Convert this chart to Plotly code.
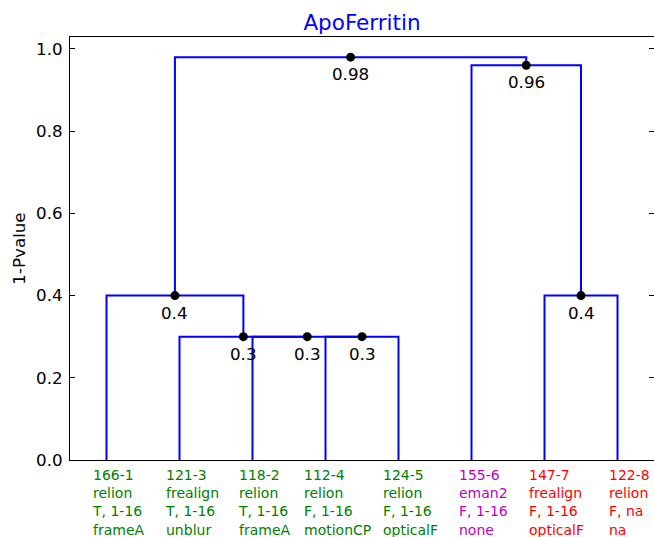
import plotly.graph_objects as go

# ---- data ----
leaf_labels = [
    "166-1<br>relion<br>T, 1-16<br>frameA",
    "121-3<br>frealign<br>T, 1-16<br>unblur",
    "118-2<br>relion<br>T, 1-16<br>frameA",
    "112-4<br>relion<br>F, 1-16<br>motionCP",
    "124-5<br>relion<br>F, 1-16<br>opticalF",
    "155-6<br>eman2<br>F, 1-16<br>none",
    "147-7<br>frealign<br>F, 1-16<br>opticalF",
    "122-8<br>relion<br>F, na<br>na",
]
leaf_colors = ["#008000", "#008000", "#008000", "#008000", "#008000",
               "#bf00bf", "#ff0000", "#ff0000"]
# linkage: (left cluster id, right cluster id, merge height); leaves are 0..7
merge_left = [3, 2, 1, 0, 6, 5, 11]
merge_right = [4, 8, 9, 10, 7, 12, 13]
merge_height = [0.3, 0.3, 0.3, 0.4, 0.4, 0.96, 0.98]

TITLE = "ApoFerritin"
Y_TITLE = "1-Pvalue"
y_ticks = [0.0, 0.2, 0.4, 0.6, 0.8, 1.0]

# ---- build dendrogram geometry from linkage ----
n = len(leaf_labels)
pos = {i: float(i) for i in range(n)}
hgt = {i: 0.0 for i in range(n)}
xs, ys = [], []
node_x, node_y, node_txt = [], [], []
for k, (a, b, h) in enumerate(zip(merge_left, merge_right, merge_height)):
    cid = n + k
    xa, xb = pos[a], pos[b]
    xs += [xa, xa, xb, xb, None]
    ys += [hgt[a], h, h, hgt[b], None]
    pos[cid] = (xa + xb) / 2
    hgt[cid] = h
    node_x.append(pos[cid])
    node_y.append(h)
    node_txt.append(str(h))

fig = go.Figure()
fig.add_trace(go.Scatter(x=xs, y=ys, mode="lines",
                         line=dict(color="#0000ff", width=2),
                         hoverinfo="skip", showlegend=False))
fig.add_trace(go.Scatter(x=node_x, y=node_y, mode="markers",
                         marker=dict(color="black", size=9),
                         showlegend=False))

FONT = "DejaVu Sans"
for x, y, t in zip(node_x, node_y, node_txt):
    fig.add_annotation(x=x, y=y, text=t, showarrow=False, xanchor="center",
                       yanchor="top", yshift=-5,
                       font=dict(family=FONT, size=16.7, color="black"))

for i, (lab, col) in enumerate(zip(leaf_labels, leaf_colors)):
    fig.add_annotation(x=i, y=0, text=lab, showarrow=False, xanchor="center",
                       yanchor="top", align="left", xshift=12, yshift=-5,
                       font=dict(family=FONT, size=14, color=col))

fig.update_layout(
    width=654, height=537,
    margin=dict(l=70, r=0, t=37, b=77, autoexpand=False),
    paper_bgcolor="white", plot_bgcolor="white",
    font=dict(family=FONT, size=16.7, color="black"),
    title=dict(text=TITLE, x=0.5, xref="paper", xanchor="center",
               y=0.959, yanchor="middle", yref="container",
               font=dict(family=FONT, size=21.5, color="#0000ff")),
)
fig.update_xaxes(range=[-0.5, n - 0.5], showgrid=False, zeroline=False,
                 showticklabels=False, ticks="", showline=True, linecolor="black",
                 linewidth=1, mirror=True)
fig.update_yaxes(range=[0, 1.029], tickvals=y_ticks,
                 ticktext=[f"{v:.1f}" for v in y_ticks],
                 showgrid=False, zeroline=False, ticks="inside", ticklen=5,
                 tickcolor="black", showline=True, linecolor="black",
                 linewidth=1, mirror="ticks", automargin=False,
                 ticklabelstandoff=3,
                 title=dict(text=Y_TITLE, standoff=6,
                            font=dict(family=FONT, size=16.7)))

fig.write_html("out.html", config={"displayModeBar": False},
               post_script="document.body.style.margin='0';"
                           "document.body.style.overflow='hidden';")
